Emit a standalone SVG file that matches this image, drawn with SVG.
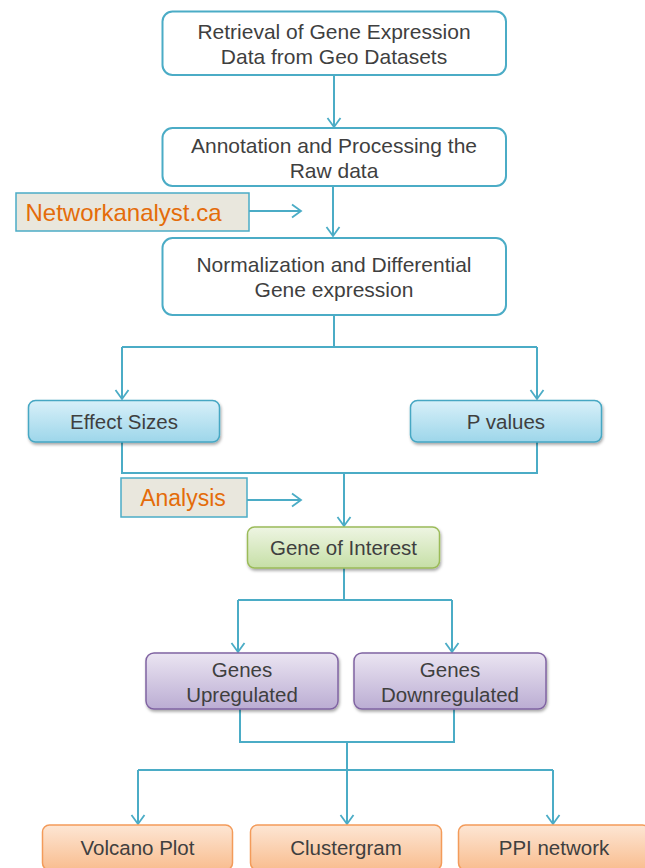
<svg xmlns="http://www.w3.org/2000/svg" width="645" height="868" viewBox="0 0 645 868">
<style>
  .t{font-family:"Liberation Sans",Arial,sans-serif;fill:#3f3f3f;text-anchor:middle}
  .w{fill:#ffffff;stroke:#4bacc6;stroke-width:2}
  .lab{fill:#e9e7dd;stroke:#4bacc6;stroke-width:1.5}
  .lt{font-family:"Liberation Sans",Arial,sans-serif;fill:#e46c0a;text-anchor:middle}
  .c{fill:none;stroke:#4bacc6;stroke-width:2}
</style>
<defs>
  <marker id="ah" markerUnits="userSpaceOnUse" markerWidth="12" markerHeight="16" viewBox="0 0 12 16" refX="10" refY="8" orient="auto">
    <path d="M1,1.5 L10,8 L1,14.5" fill="none" stroke="#4bacc6" stroke-width="1.8"/>
  </marker>
  <linearGradient id="gb" x1="0" y1="0" x2="0" y2="1"><stop offset="0" stop-color="#d8f0f9"/><stop offset="1" stop-color="#9dd6ea"/></linearGradient>
  <linearGradient id="gg" x1="0" y1="0" x2="0" y2="1"><stop offset="0" stop-color="#eef5e3"/><stop offset="1" stop-color="#c6dfa6"/></linearGradient>
  <linearGradient id="gp" x1="0" y1="0" x2="0" y2="1"><stop offset="0" stop-color="#ebe5f2"/><stop offset="1" stop-color="#bbadd3"/></linearGradient>
  <linearGradient id="go" x1="0" y1="0" x2="0" y2="1"><stop offset="0" stop-color="#fde6d4"/><stop offset="1" stop-color="#f9bd8f"/></linearGradient>
  <filter id="sh" x="-10%" y="-20%" width="120%" height="150%">
    <feDropShadow dx="1" dy="2" stdDeviation="1.5" flood-color="#000" flood-opacity="0.35"/>
  </filter>
</defs>

<g id="connectors">
  <path class="c" d="M334,75 V127" marker-end="url(#ah)"/>
  <path class="c" d="M333,186 V236" marker-end="url(#ah)"/>
  <path class="c" d="M249,211 H301" marker-end="url(#ah)"/>
  <path class="c" d="M334,315 V347 M122,347 H537"/>
  <path class="c" d="M122,347 V399" marker-end="url(#ah)"/>
  <path class="c" d="M537,347 V399" marker-end="url(#ah)"/>
  <path class="c" d="M122,442 V473 H537 V442"/>
  <path class="c" d="M344,473 V526" marker-end="url(#ah)"/>
  <path class="c" d="M247,500 H301" marker-end="url(#ah)"/>
  <path class="c" d="M344,568 V600 M238,600 H452"/>
  <path class="c" d="M238,600 V652" marker-end="url(#ah)"/>
  <path class="c" d="M452,600 V652" marker-end="url(#ah)"/>
  <path class="c" d="M240,709 V742 H454 V709"/>
  <path class="c" d="M347,742 V824" marker-end="url(#ah)"/>
  <path class="c" d="M138,770 H553"/>
  <path class="c" d="M138,770 V824" marker-end="url(#ah)"/>
  <path class="c" d="M553,770 V824" marker-end="url(#ah)"/>
</g>

<g id="retrieval">
  <rect class="w" x="162.5" y="11.5" width="343.5" height="63.5" rx="10"/>
  <text class="t" font-size="21" x="334" y="39">Retrieval of Gene Expression</text>
  <text class="t" font-size="21" x="334" y="64">Data from Geo Datasets</text>
</g>
<g id="annotation">
  <rect class="w" x="162.5" y="128" width="343.5" height="58" rx="10"/>
  <text class="t" font-size="21" x="334" y="153">Annotation and Processing the</text>
  <text class="t" font-size="21" x="334" y="178">Raw data</text>
</g>
<g id="networkanalyst">
  <rect class="lab" x="16" y="193" width="233" height="38"/>
  <text class="lt" font-size="24" x="123.5" y="221">Networkanalyst.ca</text>
</g>
<g id="normalization">
  <rect class="w" x="162.5" y="238" width="343.5" height="77" rx="10"/>
  <text class="t" font-size="21" x="334" y="272">Normalization and Differential</text>
  <text class="t" font-size="21" x="334" y="297">Gene expression</text>
</g>
<g id="effect-sizes">
  <rect x="28.5" y="400.5" width="191" height="41.5" rx="7" fill="url(#gb)" stroke="#46a7c3" stroke-width="1.5" filter="url(#sh)"/>
  <text class="t" font-size="20.5" x="124" y="429">Effect Sizes</text>
</g>
<g id="p-values">
  <rect x="410.5" y="400.5" width="191" height="41.5" rx="7" fill="url(#gb)" stroke="#46a7c3" stroke-width="1.5" filter="url(#sh)"/>
  <text class="t" font-size="20.5" x="506" y="429">P values</text>
</g>
<g id="analysis">
  <rect class="lab" x="121" y="478" width="126" height="39"/>
  <text class="lt" font-size="23" x="183" y="506">Analysis</text>
</g>
<g id="gene-of-interest">
  <rect x="247.5" y="527" width="192" height="41" rx="7" fill="url(#gg)" stroke="#9bbb59" stroke-width="1.5" filter="url(#sh)"/>
  <text class="t" font-size="20.5" x="343.5" y="555">Gene of Interest</text>
</g>
<g id="genes-upregulated">
  <rect x="146" y="653" width="192" height="56" rx="8" fill="url(#gp)" stroke="#8064a2" stroke-width="1.5" filter="url(#sh)"/>
  <text class="t" font-size="20.5" x="242" y="677">Genes</text>
  <text class="t" font-size="20.5" x="242" y="702">Upregulated</text>
</g>
<g id="genes-downregulated">
  <rect x="354" y="653" width="192" height="56" rx="8" fill="url(#gp)" stroke="#8064a2" stroke-width="1.5" filter="url(#sh)"/>
  <text class="t" font-size="20.5" x="450" y="677">Genes</text>
  <text class="t" font-size="20.5" x="450" y="702">Downregulated</text>
</g>
<g id="volcano-plot">
  <rect x="42.5" y="825" width="190" height="45" rx="7" fill="url(#go)" stroke="#f39b5a" stroke-width="1.5"/>
  <text class="t" font-size="20.5" x="137.5" y="855">Volcano Plot</text>
</g>
<g id="clustergram">
  <rect x="250.5" y="825" width="191" height="45" rx="7" fill="url(#go)" stroke="#f39b5a" stroke-width="1.5"/>
  <text class="t" font-size="20.5" x="346" y="855">Clustergram</text>
</g>
<g id="ppi-network">
  <rect x="458.5" y="825" width="191" height="45" rx="7" fill="url(#go)" stroke="#f39b5a" stroke-width="1.5"/>
  <text class="t" font-size="20.5" x="554" y="855">PPI network</text>
</g>
</svg>
